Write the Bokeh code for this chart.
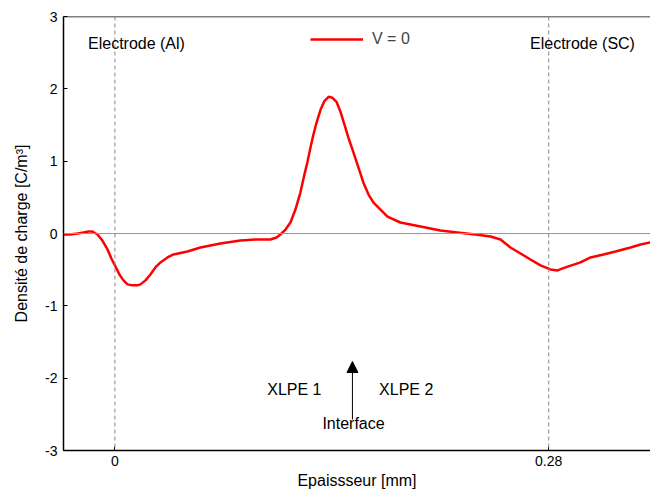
from bokeh.plotting import figure
from bokeh.models import (Range1d, Span, Label, Arrow, NormalHead, Legend, LegendItem,
                          FixedTicker, NumeralTickFormatter)
from bokeh.embed import file_html
from bokeh.resources import INLINE

# Data (thickness in mm, charge density in C/m^3)
thickness = [-0.0332, -0.0287, -0.0242, -0.0203, -0.0171, -0.0145, -0.0113, -0.0081, -0.0048,
             -0.0023, 0.0003, 0.0029, 0.0055, 0.0081, 0.0113, 0.0145, 0.0165, 0.0197, 0.0229,
             0.0261, 0.0294, 0.0339, 0.0378, 0.0468, 0.0552, 0.0681, 0.0810, 0.0907, 0.1004,
             0.1043, 0.1068, 0.1101, 0.1133, 0.1165, 0.1197, 0.1223, 0.1243, 0.1262, 0.1281,
             0.1301, 0.1327, 0.1353, 0.1379, 0.1404, 0.1430, 0.1456, 0.1482, 0.1507, 0.1540,
             0.1572, 0.1604, 0.1637, 0.1669, 0.1714, 0.1759, 0.1843, 0.1972, 0.2101, 0.2211,
             0.2327, 0.2424, 0.2489, 0.2553, 0.2618, 0.2682, 0.2747, 0.2811, 0.2857, 0.2908,
             0.3005, 0.3070, 0.3154, 0.3231, 0.3328, 0.3393, 0.3457]
density = [-0.014, -0.014, 0.0, 0.014, 0.028, 0.028, -0.014, -0.097, -0.22,
           -0.345, -0.455, -0.566, -0.648, -0.703, -0.717, -0.717, -0.703, -0.648, -0.566,
           -0.469, -0.40, -0.331, -0.29, -0.248, -0.193, -0.138, -0.097, -0.083, -0.083,
           -0.055, -0.014, 0.055, 0.152, 0.331, 0.566, 0.814, 0.993, 1.186, 1.366,
           1.531, 1.710, 1.834, 1.890, 1.876, 1.821, 1.683, 1.503, 1.324, 1.117,
           0.910, 0.703, 0.538, 0.428, 0.331, 0.234, 0.152, 0.097, 0.041, 0.014,
           -0.014, -0.041, -0.083, -0.193, -0.276, -0.359, -0.441, -0.497, -0.510, -0.469,
           -0.40, -0.331, -0.290, -0.248, -0.193, -0.152, -0.124]

x_ticks = [0, 0.28]
y_ticks = [-3, -2, -1, 0, 1, 2, 3]
y_tick_labels = {-3: "-3", -2: "-2", -1: "-1", 0: "0", 1: "1", 2: "2", 3: "3"}
series_label = "V = 0"

FONT = "Liberation Sans"

p = figure(width=650, height=493, output_backend="svg", toolbar_location=None,
           x_range=Range1d(-0.0332, 0.3457), y_range=Range1d(-3, 3),
           min_border_left=63, min_border_right=0, min_border_top=16, min_border_bottom=43)
p.outline_line_color = None
p.xgrid.visible = False
p.ygrid.visible = False
p.background_fill_color = "white"
p.border_fill_color = "white"

# Axes
p.xaxis.ticker = FixedTicker(ticks=x_ticks)
p.xaxis.formatter = NumeralTickFormatter(format="0.[00]")
p.yaxis.ticker = FixedTicker(ticks=y_ticks)
p.yaxis.major_label_overrides = y_tick_labels
for ax in (p.xaxis[0], p.yaxis[0]):
    ax.axis_line_color = "black"
    ax.axis_line_width = 1.5
    ax.major_tick_in = 4
    ax.major_tick_out = 0
    ax.major_tick_line_color = "black"
    ax.minor_tick_line_color = None
    ax.major_label_text_font = FONT
    ax.major_label_text_font_size = "14px"
    ax.major_label_text_color = "black"
    ax.axis_label_text_font = FONT
    ax.axis_label_text_font_size = "16px"
    ax.axis_label_text_font_style = "normal"
    ax.axis_label_text_color = "black"
p.xaxis.axis_label = "Epaissseur [mm]"
p.yaxis.axis_label = "Densité de charge [C/m³]"
p.xaxis.major_label_standoff = 5
p.xaxis.axis_label_standoff = 3
p.yaxis.major_label_standoff = 6
p.yaxis.axis_label_standoff = 12

# Top border
p.add_layout(Span(location=3, dimension="width", line_color="black", line_width=1.5))

# Reference lines
p.add_layout(Span(location=0, dimension="width", line_color="#999999", line_width=1))
for xv in x_ticks:
    p.add_layout(Span(location=xv, dimension="height", line_color="#888888",
                      line_width=1, line_dash="4 3"))

r = p.line(thickness, density, line_color="#ff0000", line_width=2.5)

legend = Legend(items=[LegendItem(label=series_label, renderers=[r])],
                location=(247, 401), padding=0, margin=0, border_line_color=None,
                background_fill_alpha=0, glyph_width=53, glyph_height=20,
                label_height=20, label_standoff=9,
                label_text_font=FONT, label_text_font_size="16px")
p.add_layout(legend)

def lab(x, y, t):
    p.add_layout(Label(x=x, y=y, text=t, text_align="center", text_baseline="middle",
                       text_font=FONT, text_font_size="16px", text_color="black"))

lab(0.0139, 2.63, "Electrode (Al)")
lab(0.3018, 2.63, "Electrode (SC)")
lab(0.1158, -2.15, "XLPE 1")
lab(0.1880, -2.15, "XLPE 2")
lab(0.1540, -2.63, "Interface")

p.add_layout(Arrow(end=NormalHead(size=11, fill_color="black", line_color="black"),
                   x_start=0.1533, y_start=-2.57, x_end=0.1533, y_end=-1.77,
                   line_color="black", line_width=1))

open("out.html", "w").write(file_html(p, INLINE))
